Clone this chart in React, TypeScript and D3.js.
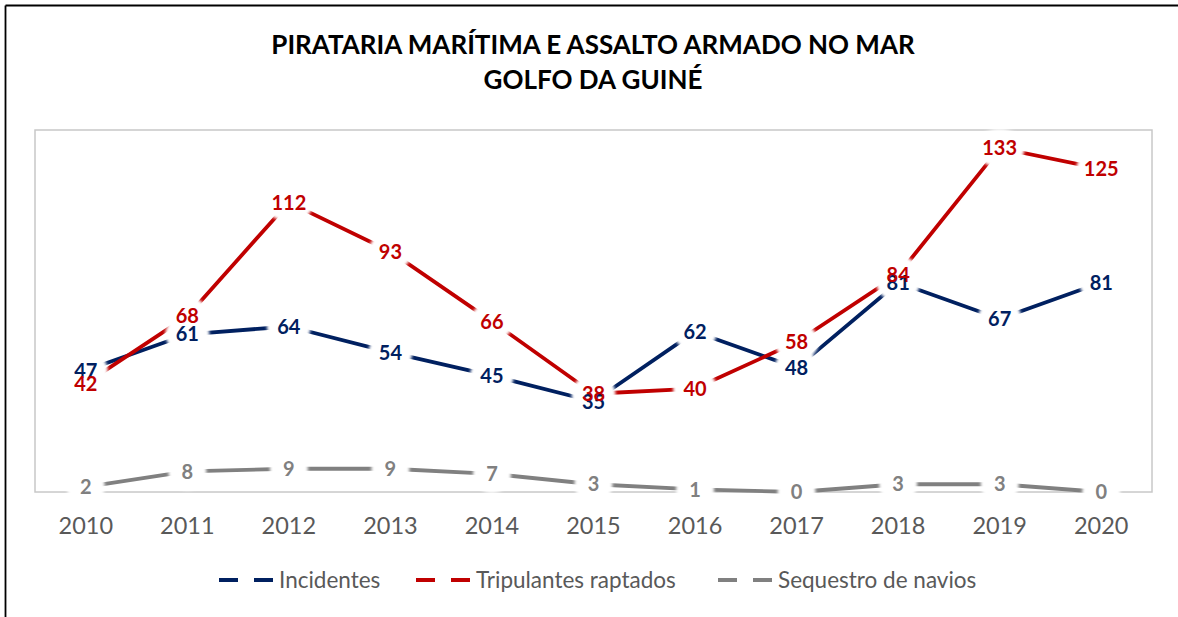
import React from "react";
import * as d3 from "d3";

const years = ["2010","2011","2012","2013","2014","2015","2016","2017","2018","2019","2020"];
const incidentes = [47, 61, 64, 54, 45, 35, 62, 48, 81, 67, 81];
const tripulantes = [42, 68, 112, 93, 66, 38, 40, 58, 84, 133, 125];
const sequestro = [2, 8, 9, 9, 7, 3, 1, 0, 3, 3, 0];
const seriesNames = ["Incidentes", "Tripulantes raptados", "Sequestro de navios"];
const titleLines = ["PIRATARIA MARÍTIMA E ASSALTO ARMADO NO MAR", "GOLFO DA GUINÉ"];
const yMax = 140;

const W = 1178, H = 617;
const plot = { left: 35, right: 1152, top: 130, bottom: 492 };
const colors = ["#002060", "#C00000", "#808080"];
const FONT = "Lato, 'Open Sans', sans-serif";

export default function App() {
  const x = d3.scaleBand<string>().domain(years).range([plot.left, plot.right]);
  const cx = (y: string) => (x(y) as number) + x.bandwidth() / 2;
  const yS = d3.scaleLinear().domain([0, yMax]).range([plot.bottom, plot.top]);
  const series = [incidentes, tripulantes, sequestro];
  const line = d3.line<number>().x((_, i) => cx(years[i])).y((d) => yS(d));
  const haloRx = (v: number) => 16 + 3 * String(v).length;

  const legendItems = [
    { x: 219, name: seriesNames[0], c: colors[0] },
    { x: 416, name: seriesNames[1], c: colors[1] },
    { x: 718, name: seriesNames[2], c: colors[2] },
  ];

  return (
    <svg width={W} height={H} style={{ position: "absolute", left: 0, top: 0, background: "#fff" }}>
      <defs>
        <filter id="halo" x="-50%" y="-50%" width="200%" height="200%">
          <feGaussianBlur stdDeviation="1.5" />
        </filter>
      </defs>
      <rect x={0} y={0} width={W} height={H} fill="#fff" />
      <line x1={5.5} y1={5.5} x2={W} y2={5.5} stroke="#000" strokeWidth={1.8} />
      <line x1={5.5} y1={5.5} x2={5.5} y2={H} stroke="#000" strokeWidth={1.8} />
      {titleLines.map((t, i) => (
        <text key={i} x={593} y={54 + i * 35} textAnchor="middle" fontFamily={FONT} fontWeight={700} fontSize={26} fill="#000">{t}</text>
      ))}
      <rect x={plot.left} y={plot.top} width={plot.right - plot.left} height={plot.bottom - plot.top} fill="none" stroke="#c8c8c8" strokeWidth={1.5} />
      {series.map((s, i) => (
        <path key={i} d={line(s) || ""} fill="none" stroke={colors[i]} strokeWidth={3.8} strokeLinejoin="round" />
      ))}
      <g filter="url(#halo)">
        {series.map((s, i) =>
          s.map((v, j) => (
            <ellipse key={`h${i}-${j}`} cx={cx(years[j])} cy={yS(v)} rx={haloRx(v)} ry={19} fill="#fff" />
          ))
        )}
      </g>
      {series.map((s, i) =>
        s.map((v, j) => (
          <text key={`t${i}-${j}`} x={cx(years[j])} y={yS(v)} dy="0.36em" textAnchor="middle" fontFamily={FONT} fontWeight={700} fontSize={20} fill={colors[i]}>{v}</text>
        ))
      )}
      {years.map((y) => (
        <text key={y} x={cx(y)} y={534} textAnchor="middle" fontFamily={FONT} fontSize={23.5} fill="#595959">{y}</text>
      ))}
      {legendItems.map((l, i) => (
        <g key={i}>
          <line x1={l.x} y1={580} x2={l.x + 54} y2={580} stroke={l.c} strokeWidth={4} strokeDasharray="19,16" />
          <text x={l.x + 60} y={588} fontFamily={FONT} fontSize={22.5} fill="#595959">{l.name}</text>
        </g>
      ))}
    </svg>
  );
}
